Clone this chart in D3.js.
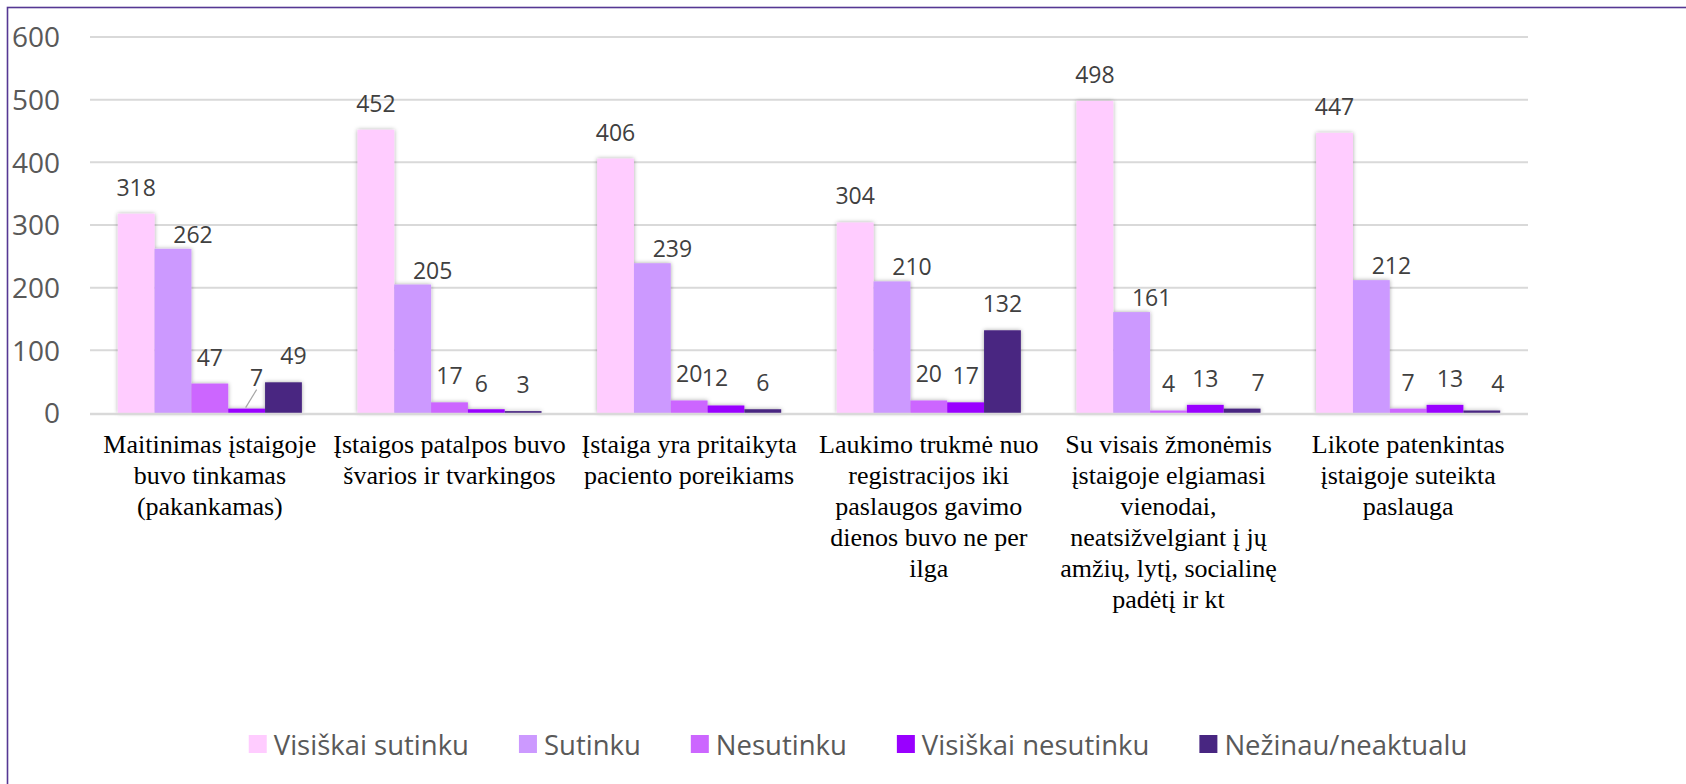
<!DOCTYPE html>
<html>
<head>
<meta charset="utf-8">
<script src="https://cdn.jsdelivr.net/npm/d3@7"></script>
<style>
  html, body { margin: 0; padding: 0; background: #fff; }
  svg { display: block; }
</style>
</head>
<body>
<svg id="chart" width="1686" height="784"></svg>
<script>
// ---- data ----
const categories = [
  ["Maitinimas įstaigoje", "buvo tinkamas", "(pakankamas)"],
  ["Įstaigos patalpos buvo", "švarios ir tvarkingos"],
  ["Įstaiga yra pritaikyta", "paciento poreikiams"],
  ["Laukimo trukmė nuo", "registracijos iki", "paslaugos gavimo", "dienos buvo ne per", "ilga"],
  ["Su visais žmonėmis", "įstaigoje elgiamasi", "vienodai,", "neatsižvelgiant į jų", "amžių, lytį, socialinę", "padėtį ir kt"],
  ["Likote patenkintas", "įstaigoje suteikta", "paslauga"]
];
const seriesNames = ["Visiškai sutinku", "Sutinku", "Nesutinku", "Visiškai nesutinku", "Nežinau/neaktualu"];
const visiskaiSutinku    = [318, 452, 406, 304, 498, 447];
const sutinku            = [262, 205, 239, 210, 161, 212];
const nesutinku          = [47, 17, 20, 20, 4, 7];
const visiskaiNesutinku  = [7, 6, 12, 17, 13, 13];
const nezinau            = [49, 3, 6, 132, 7, 4];
const yTicks = [0, 100, 200, 300, 400, 500, 600];

// ---- styles ----
const colors = ["#FFCCFF", "#CC99FF", "#CC66FF", "#9900FF", "#482681"];
const seriesValues = [visiskaiSutinku, sutinku, nesutinku, visiskaiNesutinku, nezinau];
// label offsets per series (style)
const labelOffset = [ {dx:0, dy:-27}, {dx:20, dy:-15}, {dx:0, dy:-27}, {dx:0, dy:-27}, {dx:0, dy:-27} ];
// individual label nudges (style)
const labelNudge = { "0-3": {dx:10, dy:-32, leader:true}, "0-4": {dx:10, dy:-27}, "1-3": {dx:-5, dy:-26},
                     "2-3": {dx:-11, dy:-28}, "4-4": {dx:16, dy:-27}, "5-3": {dx:5, dy:-27}, "5-4": {dx:16, dy:-27} };

const svg = d3.select("#chart");
const W = 1686, H = 784;
const plot = { left: 90, right: 1528, top: 37, bottom: 413 };

svg.append("rect").attr("width", W).attr("height", H).attr("fill", "#fff");

const defs = svg.append("defs");
const f = defs.append("filter").attr("id", "shadow").attr("x", "-20%").attr("y", "-20%").attr("width", "140%").attr("height", "140%");
f.append("feDropShadow").attr("dx", 0).attr("dy", 0).attr("stdDeviation", 2.2)
  .attr("flood-color", "#000").attr("flood-opacity", 0.35);

// chart border (extends beyond the right/bottom edge)
svg.append("rect").attr("x", 7.5).attr("y", 7.5).attr("width", 1702).attr("height", 800)
  .attr("fill", "none").attr("stroke", "#553893").attr("stroke-width", 1.6);

const catIdx = d3.range(categories.length);
const x0 = d3.scaleBand().domain(catIdx).range([plot.left, plot.right]).paddingInner(0).paddingOuter(0);
const bw = x0.bandwidth();
const x1 = d3.scaleBand().domain(d3.range(seriesNames.length))
  .range([bw * 0.116, bw * 0.884]).paddingInner(0);
const y = d3.scaleLinear().domain([0, 600]).range([plot.bottom, plot.top]);

// gridlines
svg.append("g").selectAll("line").data(yTicks.filter(t => t > 0)).join("line")
  .attr("x1", plot.left).attr("x2", plot.right)
  .attr("y1", d => y(d)).attr("y2", d => y(d))
  .attr("stroke", "#D9D9D9").attr("stroke-width", 2);

// y axis labels
const yAxis = d3.axisLeft(y).tickValues(yTicks).tickSize(0).tickPadding(0);
const yg = svg.append("g").attr("transform", `translate(60,0)`).call(yAxis);
yg.select(".domain").remove();
yg.selectAll("text").attr("font-family", "'Open Sans', 'Noto Sans', sans-serif")
  .attr("font-size", 28).attr("fill", "#595959").attr("dy", "0.35em");

// bars
const groups = svg.append("g").selectAll("g").data(catIdx).join("g")
  .attr("transform", c => `translate(${x0(c)},0)`)
  .attr("filter", "url(#shadow)");
groups.selectAll("rect").data(c => seriesValues.map((vals, s) => ({ c, s, v: vals[c] }))).join("rect")
  .attr("x", d => x1(d.s)).attr("width", x1.bandwidth())
  .attr("y", d => y(d.v)).attr("height", d => y(0) - y(d.v))
  .attr("fill", d => colors[d.s]);

// baseline axis
svg.append("line").attr("x1", plot.left).attr("x2", plot.right)
  .attr("y1", y(0) + 1).attr("y2", y(0) + 1).attr("stroke", "#D9D9D9").attr("stroke-width", 2.5);

// data labels
const labelData = [];
catIdx.forEach(c => seriesValues.forEach((vals, s) => labelData.push({ c, s, v: vals[c] })));
const lg = svg.append("g");
labelData.forEach(d => {
  const key = `${d.c}-${d.s}`;
  const off = labelNudge[key] || labelOffset[d.s];
  const bx = x0(d.c) + x1(d.s) + x1.bandwidth() / 2;
  const by = y(d.v);
  const lx = bx + off.dx, ly = by + off.dy;
  if (off.leader) {
    lg.append("line").attr("x1", bx - 1).attr("y1", by - 1).attr("x2", lx).attr("y2", ly + 13)
      .attr("stroke", "#A6A6A6").attr("stroke-width", 1.2);
  }
  lg.append("text").attr("x", lx).attr("y", ly).attr("text-anchor", "middle")
    .attr("dominant-baseline", "central")
    .attr("font-family", "'Open Sans', 'Noto Sans', sans-serif").attr("font-size", 23)
    .attr("fill", "#404040").text(d.v);
});

// category labels
const cg = svg.append("g");
catIdx.forEach(c => {
  const t = cg.append("text").attr("x", x0(c) + bw / 2).attr("y", 453)
    .attr("text-anchor", "middle")
    .attr("font-family", "'Liberation Serif', 'Times New Roman', serif").attr("font-size", 26)
    .attr("fill", "#000");
  categories[c].forEach((line, i) => {
    t.append("tspan").attr("x", x0(c) + bw / 2).attr("y", 453 + i * 31).text(line);
  });
});

// legend
const legend = svg.append("g");
const items = seriesNames.map((name, i) => {
  const g = legend.append("g");
  g.append("rect").attr("x", 0).attr("y", 735).attr("width", 18).attr("height", 18).attr("fill", colors[i]);
  const tx = g.append("text").attr("x", 25).attr("y", 744).attr("dominant-baseline", "central")
    .attr("font-family", "'Open Sans', 'Noto Sans', sans-serif").attr("font-size", 27.5)
    .attr("fill", "#595959").text(name);
  return { g, w: 25 + tx.node().getComputedTextLength() };
});
const gap = 50;
const total = d3.sum(items, d => d.w) + gap * (items.length - 1);
let cx = 858 - total / 2;
items.forEach(it => { it.g.attr("transform", `translate(${cx},0)`); cx += it.w + gap; });
</script>
</body>
</html>
